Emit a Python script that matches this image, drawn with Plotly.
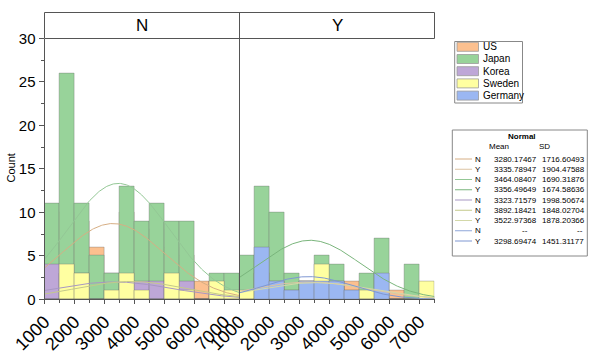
import numpy as np
import plotly.graph_objects as go

W, H = 600, 357
def PX(x): return x / W
def PY(y): return 1 - y / H

# ---------------- data ----------------
bin_left = [1000, 1500, 2000, 2500, 3000, 3500, 4000, 4500, 5000, 5500, 6000, 6500, 7000]
bin_width = 500
countries = ["US", "Japan", "Korea", "Sweden", "Germany"]

us_n      = [5, 10, 9, 6, 3, 10, 8, 8, 6, 5, 2, 2, 1]
japan_n   = [11, 26, 11, 5, 3, 13, 9, 11, 9, 9, 0, 3, 3]
korea_n   = [4, 3, 3, 0, 0, 2, 2, 2, 2, 2, 0, 0, 0]
sweden_n  = [0, 4, 3, 0, 1, 3, 1, 0, 3, 1, 0, 2, 1]
germany_n = [0, 0, 0, 0, 0, 0, 0, 0, 0, 0, 0, 0, 0]

us_y      = [1, 3, 3, 2, 2, 2, 2, 2, 1, 0, 1, 0, 0]
japan_y   = [5, 13, 10, 3, 2, 5, 4, 1, 3, 7, 0, 4, 0]
korea_y   = [0, 0, 0, 0, 0, 0, 0, 0, 0, 0, 0, 0, 0]
sweden_y  = [1, 3, 2, 1, 2, 4, 2, 0, 1, 0, 0, 0, 2]
germany_y = [0, 6, 2, 1, 2, 2, 2, 1, 0, 3, 0, 0, 0]

norm_country = ["US", "US", "Japan", "Japan", "Korea", "Sweden", "Sweden", "Germany", "Germany"]
norm_group   = ["N", "Y", "N", "Y", "N", "N", "Y", "N", "Y"]
norm_mean    = ["3280.17467", "3335.78947", "3464.08407", "3356.49649", "3323.71579",
                "3892.18421", "3522.97368", "--", "3298.69474"]
norm_sd      = ["1716.60493", "1904.47588", "1690.31876", "1674.58636", "1998.50674",
                "1848.02704", "1878.20366", "--", "1451.31177"]

x_ticks = [1000, 2000, 3000, 4000, 5000, 6000, 7000]
y_ticks = [0, 5, 10, 15, 20, 25, 30]

# ---------------- styles ----------------
fill_col = {"US": "#FCC08F", "Japan": "#98D39A", "Korea": "#BEA7D7",
            "Sweden": "#FFFFA1", "Germany": "#9BB7F2"}
curve_col = ["#D6AE84", "#DCC3A2", "#93C795", "#7AB57C", "#A797C3",
             "#C4C98A", "#D3D8A8", "#8EA6D9", "#7F97D2"]

series = {
    "N": {"US": us_n, "Japan": japan_n, "Korea": korea_n, "Sweden": sweden_n, "Germany": germany_n},
    "Y": {"US": us_y, "Japan": japan_y, "Korea": korea_y, "Sweden": sweden_y, "Germany": germany_y},
}
axis_of = {"N": ("x", "y"), "Y": ("x2", "y2")}

fig = go.Figure()
centers = [b + bin_width / 2 for b in bin_left]
for g in ["N", "Y"]:
    xa, ya = axis_of[g]
    for c in countries:
        fig.add_trace(go.Bar(
            x=centers, y=series[g][c], width=bin_width, xaxis=xa, yaxis=ya,
            marker=dict(color=fill_col[c], line=dict(color="rgba(110,110,110,0.45)", width=0.8)),
            showlegend=False, hoverinfo="skip"))

xs = np.linspace(1000, 7500, 260)
for i, (c, g, m, s) in enumerate(zip(norm_country, norm_group, norm_mean, norm_sd)):
    if m == "--":
        continue
    n = sum(series[g][c])
    mu, sd = float(m), float(s)
    ys = n * bin_width * np.exp(-0.5 * ((xs - mu) / sd) ** 2) / (sd * np.sqrt(2 * np.pi))
    xa, ya = axis_of[g]
    fig.add_trace(go.Scatter(x=xs, y=ys, mode="lines", xaxis=xa, yaxis=ya,
                             line=dict(color=curve_col[i], width=1), showlegend=False,
                             hoverinfo="skip"))

left, mid, right = 44.5, 239.5, 434.5
top_plot, bottom_plot, top_head = 38.5, 299.3, 12.5
axc = "#555555"
xcommon = dict(range=[1000, 7500], tickvals=x_ticks, ticktext=[str(v) for v in x_ticks],
               tickangle=-45, ticks="outside", ticklen=4, tickcolor=axc,
               showline=True, linecolor=axc, linewidth=1, showgrid=False, zeroline=False,
               tickfont=dict(family="Liberation Sans, Arial", size=18, color="black"),
               minor=dict(dtick=500, tick0=1000, ticks="outside", ticklen=3, tickcolor=axc),
               automargin=False)
fig.update_layout(
    width=W, height=H, margin=dict(l=0, r=0, t=0, b=0),
    paper_bgcolor="white", plot_bgcolor="white", barmode="overlay", bargap=0,
    xaxis=dict(domain=[PX(left), PX(mid)], anchor="y", **xcommon),
    xaxis2=dict(domain=[PX(mid), PX(right)], anchor="y2", **xcommon),
    yaxis=dict(domain=[PY(bottom_plot), PY(top_plot)], range=[0, 30], tickvals=y_ticks,
               ticks="outside", ticklen=5, tickcolor=axc, showline=True, linecolor=axc,
               linewidth=1, showgrid=False, zeroline=False, automargin=False,
               minor=dict(dtick=2.5, tick0=0, ticks="outside", ticklen=3, tickcolor=axc),
               tickfont=dict(family="Liberation Sans, Arial", size=15, color="black")),
    yaxis2=dict(domain=[PY(bottom_plot), PY(top_plot)], range=[0, 30], anchor="x2",
                showticklabels=False, ticks="", showline=True, linecolor=axc, linewidth=1,
                showgrid=False, zeroline=False, automargin=False),
)

shapes = []
annots = []
# header strip
shapes.append(dict(type="rect", xref="paper", yref="paper", x0=PX(left), x1=PX(right),
                   y0=PY(top_plot), y1=PY(top_head), line=dict(color=axc, width=1)))
shapes.append(dict(type="line", xref="paper", yref="paper", x0=PX(mid), x1=PX(mid),
                   y0=PY(top_plot), y1=PY(top_head), line=dict(color=axc, width=1)))
for g, cx in [("N", (left + mid) / 2), ("Y", (mid + right) / 2)]:
    annots.append(dict(text=g, x=PX(cx), y=PY(25.5), xref="paper", yref="paper",
                       showarrow=False, xanchor="center", yanchor="middle",
                       font=dict(family="Liberation Sans, Arial", size=17, color="black")))
# Count label
annots.append(dict(text="Count", x=PX(10.5), y=PY(168), xref="paper", yref="paper",
                   showarrow=False, textangle=-90, xanchor="center", yanchor="middle",
                   font=dict(family="Liberation Sans, Arial", size=11, color="black")))

# country legend
shapes.append(dict(type="rect", xref="paper", yref="paper", x0=PX(454.7), x1=PX(522.5),
                   y0=PY(103), y1=PY(41.5), line=dict(color="#888888", width=1),
                   fillcolor="white"))
for k, c in enumerate(countries):
    cy = 46.8 + k * 12.2
    shapes.append(dict(type="rect", xref="paper", yref="paper", x0=PX(457), x1=PX(478.5),
                       y0=PY(cy + 4.5), y1=PY(cy - 4.5), fillcolor=fill_col[c],
                       line=dict(color="#9a9a9a", width=0.8)))
    annots.append(dict(text=c, x=PX(481), y=PY(cy), xref="paper", yref="paper",
                       showarrow=False, xanchor="left", yanchor="middle",
                       font=dict(family="Liberation Sans, Arial", size=10, color="black")))

# Normal table
shapes.append(dict(type="rect", xref="paper", yref="paper", x0=PX(452.3), x1=PX(587.3),
                   y0=PY(256), y1=PY(130), line=dict(color="#888888", width=1),
                   fillcolor="white"))
tf = dict(family="Liberation Sans, Arial", size=8, color="black")
annots.append(dict(text="<b>Normal</b>", x=PX(521.7), y=PY(136), xref="paper", yref="paper",
                   showarrow=False, xanchor="center", yanchor="middle", font=tf))
annots.append(dict(text="Mean", x=PX(498.5), y=PY(146), xref="paper", yref="paper",
                   showarrow=False, xanchor="center", yanchor="middle", font=tf))
annots.append(dict(text="SD", x=PX(544.5), y=PY(146), xref="paper", yref="paper",
                   showarrow=False, xanchor="center", yanchor="middle", font=tf))
for i, (g, m, s) in enumerate(zip(norm_group, norm_mean, norm_sd)):
    cy = 159 + i * 10.25
    shapes.append(dict(type="line", xref="paper", yref="paper", x0=PX(455), x1=PX(472),
                       y0=PY(cy), y1=PY(cy), line=dict(color=curve_col[i], width=1)))
    annots.append(dict(text=g, x=PX(478), y=PY(cy), xref="paper", yref="paper",
                       showarrow=False, xanchor="center", yanchor="middle", font=tf))
    if m == "--":
        annots.append(dict(text="--", x=PX(530), y=PY(cy), xref="paper", yref="paper",
                           showarrow=False, xanchor="right", yanchor="middle", font=tf))
        annots.append(dict(text="--", x=PX(585), y=PY(cy), xref="paper", yref="paper",
                           showarrow=False, xanchor="right", yanchor="middle", font=tf))
    else:
        annots.append(dict(text=m, x=PX(491.5), y=PY(cy), xref="paper", yref="paper",
                           showarrow=False, xanchor="left", yanchor="middle", font=tf))
        annots.append(dict(text=s, x=PX(539.5), y=PY(cy), xref="paper", yref="paper",
                           showarrow=False, xanchor="left", yanchor="middle", font=tf))

fig.update_layout(shapes=shapes, annotations=annots)
fig.write_html("out.html", config={"displayModeBar": False},
               post_script="document.body.style.margin='0';document.body.style.overflow='hidden';")
